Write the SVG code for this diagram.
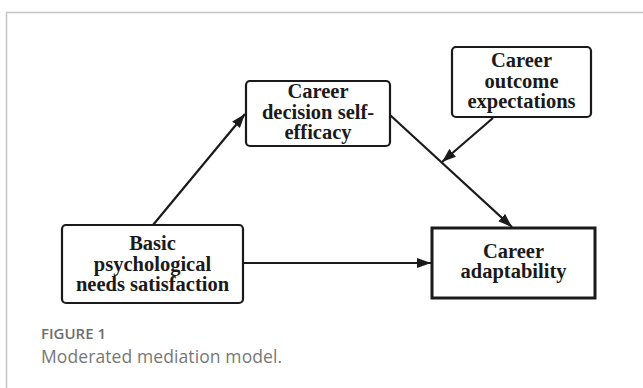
<svg xmlns="http://www.w3.org/2000/svg" width="643" height="388" viewBox="0 0 643 388">
<style>
.box{fill:#fff;stroke:#1a1a1a;stroke-width:2.2}
.box2{fill:#fff;stroke:#1a1a1a;stroke-width:3}
.lbl{font-family:"Liberation Serif","Times New Roman",serif;font-weight:bold;font-size:20.5px;fill:#1a1a1a;text-anchor:middle}
.conn{stroke:#1a1a1a;stroke-width:2.2;fill:none;marker-end:url(#ah)}
.cap1{font-family:"Open Sans","Noto Sans",sans-serif;font-weight:600;font-size:15px;fill:#6e6e6e}
.cap2{font-family:"Open Sans","Noto Sans",sans-serif;font-weight:400;font-size:17.5px;letter-spacing:0.1px;fill:#777}
</style>
<defs>
<marker id="ah" markerUnits="userSpaceOnUse" markerWidth="15" markerHeight="11" refX="14" refY="5" orient="auto">
<path d="M0,0 L14,5 L0,10 z" fill="#1a1a1a"/>
</marker>
</defs>
<rect width="643" height="388" fill="#fff"/>
<path d="M6.5,388 V12.5 H643" fill="none" stroke="#c4c4c4" stroke-width="1.5"/>
<g id="connectors">
<line class="conn" x1="153" y1="225" x2="245" y2="114"/>
<line class="conn" x1="390" y1="115" x2="512" y2="227"/>
<line class="conn" x1="493" y1="118" x2="442" y2="162"/>
<line class="conn" x1="243" y1="263" x2="431" y2="263"/>
</g>
<g id="node-cdse">
<rect class="box" x="246" y="81" width="144" height="65" rx="4"/>
<text class="lbl" x="318" y="98">Career</text>
<text class="lbl" x="318" y="119">decision self-</text>
<text class="lbl" x="318" y="139">efficacy</text>
</g>
<g id="node-coe">
<rect class="box" x="452" y="47" width="139" height="70" rx="4"/>
<text class="lbl" x="521.5" y="67">Career</text>
<text class="lbl" x="521.5" y="88">outcome</text>
<text class="lbl" x="521.5" y="108">expectations</text>
</g>
<g id="node-bpns">
<rect class="box" x="62" y="225" width="181" height="78" rx="4"/>
<text class="lbl" x="152.5" y="250">Basic</text>
<text class="lbl" x="152.5" y="271">psychological</text>
<text class="lbl" x="152.5" y="291">needs satisfaction</text>
</g>
<g id="node-ca">
<rect class="box2" x="432" y="228" width="163" height="70"/>
<text class="lbl" x="513.5" y="258">Career</text>
<text class="lbl" x="513.5" y="278">adaptability</text>
</g>
<text class="cap1" x="41" y="339">FIGURE 1</text>
<text class="cap2" x="41" y="363">Moderated mediation model.</text>
</svg>
